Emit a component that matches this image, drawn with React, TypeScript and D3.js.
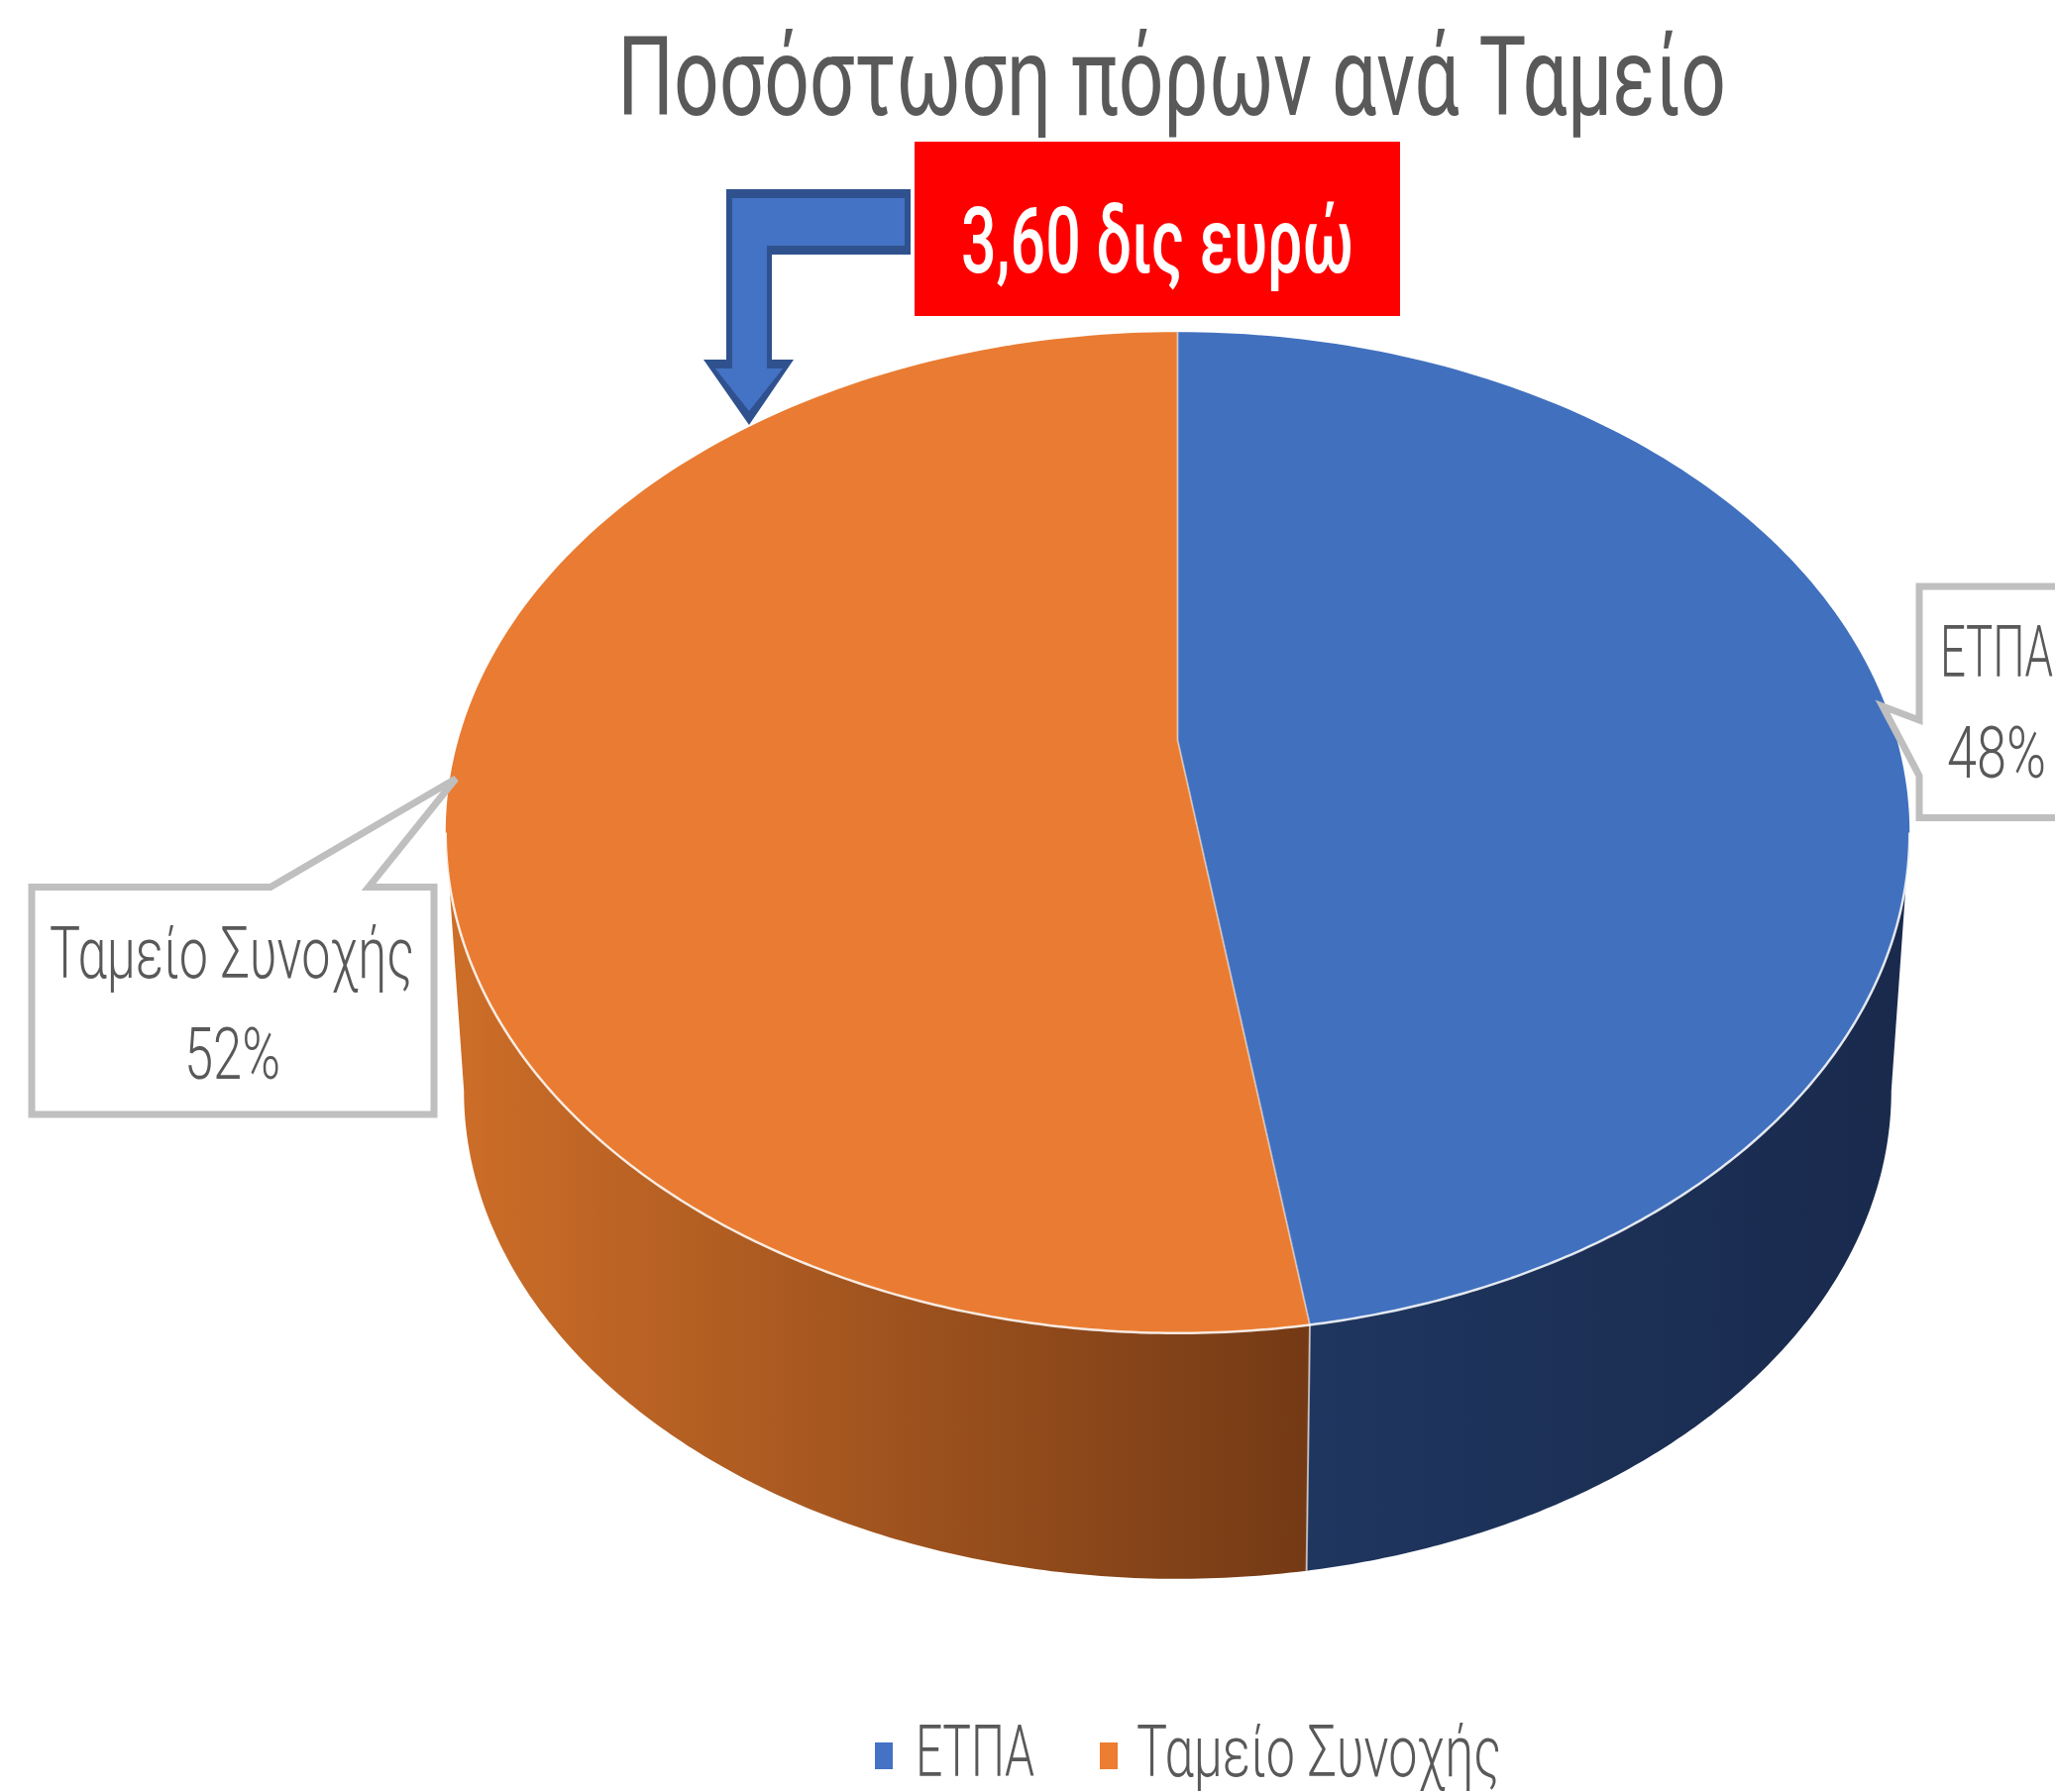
import React, { useMemo } from "react";
import * as d3 from "d3";

const titleText = "Ποσόστωση πόρων ανά Ταμείο";
const calloutText = "3,60 δις ευρώ";
const categories = ["ΕΤΠΑ", "Ταμείο Συνοχής"];
const shares = [47.6, 52.4];
const shareLabels = ["48%", "52%"];

const topColors = ["#4170BE", "#E97C32"];
const legendColors = ["#4472C4", "#ED7D31"];
const TEXT = "#595959";
const FONT = "Roboto, 'Open Sans', sans-serif";

const W = 2074;
const H = 1809;
const CX = 1188.5;
const Y0_TOP = 747;
const A = 726;
const B = 488;
const K = 0.185;
const Y0_BOTTOM = 1010;
const BOTTOM_SCALE = 0.975;

function project(angle: number, scale: number, y0: number): [number, number] {
  const u = Math.sin(angle);
  const v = Math.cos(angle);
  const s = 1 / (1 + K * v);
  return [CX + scale * A * u * s, y0 - scale * B * v * s];
}
const topPt = (a: number) => project(a, 1, Y0_TOP);
const botPt = (a: number) => project(a, BOTTOM_SCALE, Y0_BOTTOM);

function angles(a0: number, a1: number, n = 160) {
  return d3.range(n + 1).map((i) => a0 + ((a1 - a0) * i) / n);
}

const line = d3.line();

function FitText(p: any) {
  const { x0, x1, y, size, fill, weight, children } = p;
  return (
    <text
      x={x0}
      y={y}
      textLength={x1 - x0}
      lengthAdjust="spacingAndGlyphs"
      fontFamily={FONT}
      fontSize={size}
      fontWeight={weight ?? 300}
      fill={fill ?? TEXT}
      style={{ whiteSpace: "pre" }}
    >
      {children}
    </text>
  );
}

export default function App() {
  const arcs = useMemo(
    () => d3.pie<number>().sort(null).value((d) => d)(shares),
    []
  );
  const sideStart = Math.PI - Math.acos(K); // widest point, right
  const sideEnd = Math.PI + Math.acos(K); // widest point, left
  const split = arcs[0].endAngle;

  const topPaths = arcs.map((a) => {
    const pts = angles(a.startAngle, a.endAngle).map(topPt);
    return line([[CX, Y0_TOP], ...pts] as [number, number][]) + "Z";
  });
  const sidePath = (a0: number, a1: number) => {
    const t = angles(a0, a1).map(topPt);
    const b = angles(a0, a1).map(botPt).reverse();
    return line([...t, ...b] as [number, number][]) + "Z";
  };
  const blueEdge = botPt(split);
  const frontEdge = line(angles(split, sideEnd).map(topPt) as [number, number][]) as string;
  const blueFront = line(angles(sideStart, split).map(topPt) as [number, number][]) as string;
  const sideLeft = botPt(sideEnd)[0];
  const sideRight = botPt(sideStart)[0];
  const splitX = topPt(split)[0];

  return (
    <svg
      width={W}
      height={H}
      viewBox={`0 0 ${W} ${H}`}
      style={{ position: "absolute", left: 0, top: 0, display: "block", background: "#fff" }}
    >
      <defs>
        <linearGradient id="orangeSide" gradientUnits="userSpaceOnUse" x1={sideLeft} x2={blueEdge[0]} y1="0" y2="0">
          <stop offset="0" stopColor="#CC6D28" />
          <stop offset="1" stopColor="#743A15" />
        </linearGradient>
        <linearGradient id="blueSide" gradientUnits="userSpaceOnUse" x1={splitX} x2={sideRight} y1="0" y2="0">
          <stop offset="0" stopColor="#1F365F" />
          <stop offset="1" stopColor="#192A4D" />
        </linearGradient>
      </defs>

      <FitText x0={623} x1={1742} y={116} size={111} weight={400}>{titleText}</FitText>

      <path d={sidePath(sideStart, split)} fill="url(#blueSide)" />
      <path d={sidePath(split, sideEnd)} fill="url(#orangeSide)" />
      <path d={topPaths[0]} fill={topColors[0]} />
      <path d={topPaths[1]} fill={topColors[1]} />
      <path d={frontEdge} fill="none" stroke="#fff" strokeOpacity={0.85} strokeWidth={2.5} />
      <path d={blueFront} fill="none" stroke="#fff" strokeOpacity={0.85} strokeWidth={2.5} />
      <path
        d={line([[CX, topPt(0)[1]], [CX, Y0_TOP], topPt(split)] as [number, number][]) as string}
        fill="none"
        stroke="#fff"
        strokeOpacity={0.45}
        strokeWidth={2}
      />
      <path
        d={line([topPt(split), blueEdge] as [number, number][]) as string}
        fill="none"
        stroke="#fff"
        strokeOpacity={0.6}
        strokeWidth={2}
      />

      <rect x={923} y={143} width={490} height={176} fill="#FF0000" />
      <FitText x0={970} x1={1366} y={275} size={92} fill="#FFFFFF" weight={500}>{calloutText}</FitText>

      {/* elbow arrow: dark outer shape, blue inner shape */}
      <path
        d="M919,191 L733,191 L733,363 L710,363 L756,429 L801,363 L779,363 L779,257 L919,257 Z"
        fill="#2F528F"
      />
      <path
        d="M913,200 L739,200 L739,372 L722,372 L756,415 L790,372 L774,372 L774,248 L913,248 Z"
        fill="#4472C4"
      />

      {/* ΕΤΠΑ data label */}
      <path
        d="M2100,592 L1937,592 L1937,727 L1900,713 L1937,783 L1937,825.500 L2100,825.500"
        fill="#fff"
        stroke="#BFBFBF"
        strokeWidth={7}
      />
      <FitText x0={1958} x1={2072} y={683} size={73}>{categories[0]}</FitText>
      <FitText x0={1965} x1={2065} y={785} size={73}>{shareLabels[0]}</FitText>

      {/* Ταμείο Συνοχής data label */}
      <path
        d="M32,895.500 L273,895.500 L460,786 L372,895.500 L438,895.500 L438,1125 L32,1125 Z"
        fill="#fff"
        stroke="#BFBFBF"
        strokeWidth={7}
      />
      <FitText x0={50} x1={418} y={987} size={73}>{categories[1]}</FitText>
      <FitText x0={186} x1={283} y={1089} size={73}>{shareLabels[1]}</FitText>

      {/* legend */}
      <rect x={883} y={1759} width={18} height={27} fill={legendColors[0]} />
      <FitText x0={924} x1={1044} y={1793} size={73}>{categories[0]}</FitText>
      <rect x={1110} y={1759} width={18} height={27} fill={legendColors[1]} />
      <FitText x0={1147} x1={1515} y={1793} size={73}>{categories[1]}</FitText>
    </svg>
  );
}
